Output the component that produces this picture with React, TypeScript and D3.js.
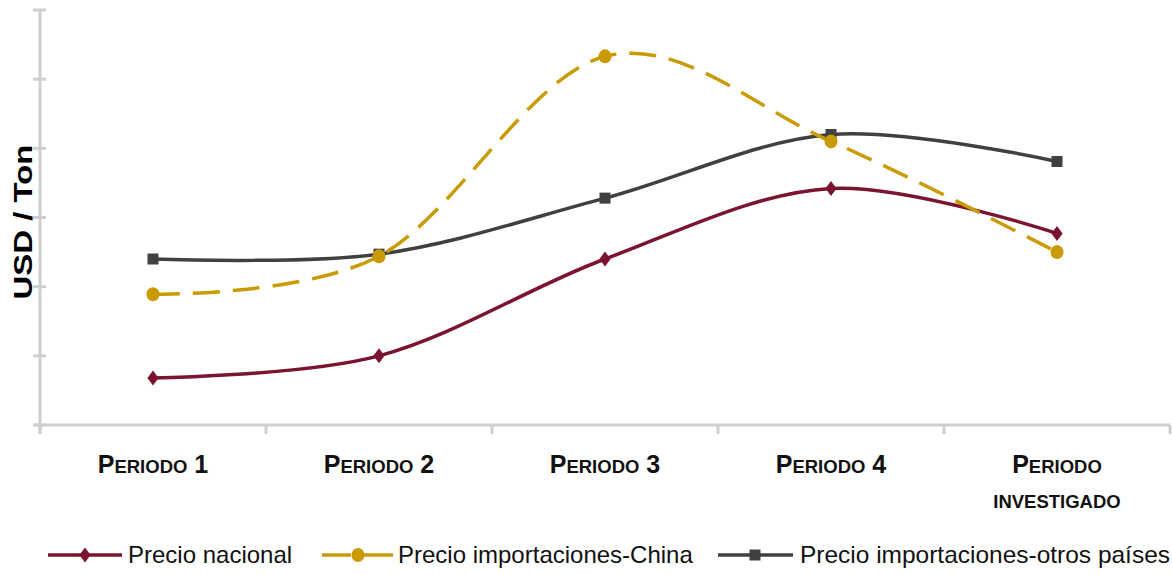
import React from "react";
import * as d3 from "d3";

const categories = ["Periodo 1", "Periodo 2", "Periodo 3", "Periodo 4", "Periodo investigado"];
const yTicks = [0, 1, 2, 3, 4, 5, 6];
const precioNacional = [0.68, 1.0, 2.4, 3.42, 2.77];
const precioChina = [1.89, 2.44, 5.33, 4.1, 2.5];
const precioOtros = [2.4, 2.47, 3.28, 4.2, 3.81];

const W = 1172;
const H = 575;
const left = 40;
const right = 1170;
const top = 10;
const bottom = 425;

const C_NAC = "#7a1430";
const C_CHN = "#c99b00";
const C_OTR = "#404040";
const AXIS = "#cfcfcf";

const FONT = "'Liberation Sans', Arial, sans-serif";

export default function App() {
  const x = d3.scaleBand<string>().domain(categories).range([left, right]);
  const y = d3.scaleLinear().domain([0, 6]).range([bottom, top]);
  const cx = (c: string) => (x(c) as number) + x.bandwidth() / 2;

  const line = d3
    .line<number>()
    .x((_, i) => cx(categories[i]))
    .y((v) => y(v))
    .curve(d3.curveCatmullRom.alpha(0));

  const boundaries = categories.map((c) => x(c) as number).concat([right]);

  const diamond = (px: number, py: number, s: number) =>
    `M${px},${py - s} L${px + s * 0.75},${py} L${px},${py + s} L${px - s * 0.75},${py} Z`;

  const smallCaps = (word: string, big: number, small: number) => (
    <>
      <tspan fontSize={big}>{word[0]}</tspan>
      <tspan fontSize={small}>{word.slice(1).toUpperCase()}</tspan>
    </>
  );

  return (
    <svg
      width={W}
      height={H}
      style={{ position: "absolute", left: 0, top: 0, background: "#fff" }}
      fontFamily={FONT}
    >
      {/* axes */}
      <line x1={left} x2={left} y1={top} y2={bottom + 8} stroke={AXIS} strokeWidth={3} />
      {yTicks.map((t) => (
        <line key={t} x1={left - 7} x2={left + 6} y1={y(t)} y2={y(t)} stroke={AXIS} strokeWidth={3} />
      ))}
      <line x1={left - 7} x2={right} y1={bottom} y2={bottom} stroke={AXIS} strokeWidth={3} />
      {boundaries.map((b, i) => (
        <line key={i} x1={b} x2={b} y1={bottom} y2={bottom + 9} stroke={AXIS} strokeWidth={3} />
      ))}

      {/* y label */}
      <text
        transform={`translate(32,222) rotate(-90)`}
        textAnchor="middle"
        fontWeight="bold"
        fontSize={25}
        textLength={155}
        lengthAdjust="spacingAndGlyphs"
        fill="#000"
      >
        USD / Ton
      </text>

      {/* category labels */}
      {categories.map((c, i) => {
        const words = c.split(" ");
        if (i < 4) {
          return (
            <text key={c} x={cx(c)} y={473} textAnchor="middle" fontWeight="bold" fill="#111">
              {smallCaps(words[0], 25, 18.5)}
              <tspan fontSize={25}>{" " + words[1]}</tspan>
            </text>
          );
        }
        return (
          <g key={c}>
            <text x={cx(c)} y={473} textAnchor="middle" fontWeight="bold" fill="#111">
              {smallCaps(words[0], 25, 18.5)}
            </text>
            <text x={cx(c)} y={508} textAnchor="middle" fontWeight="bold" fill="#111" fontSize={18.5}>
              {words[1].toUpperCase()}
            </text>
          </g>
        );
      })}

      {/* series */}
      <path d={line(precioOtros) || ""} fill="none" stroke={C_OTR} strokeWidth={3.5} />
      <path d={line(precioNacional) || ""} fill="none" stroke={C_NAC} strokeWidth={3.5} />
      <path
        d={line(precioChina) || ""}
        fill="none"
        stroke={C_CHN}
        strokeWidth={3.5}
        strokeDasharray="27 13"
      />

      {precioOtros.map((v, i) => (
        <rect key={"o" + i} x={cx(categories[i]) - 5.5} y={y(v) - 5.5} width={11} height={11} fill={C_OTR} />
      ))}
      {precioNacional.map((v, i) => (
        <path key={"n" + i} d={diamond(cx(categories[i]), y(v), 7.5)} fill={C_NAC} />
      ))}
      {precioChina.map((v, i) => (
        <ellipse key={"c" + i} cx={cx(categories[i])} cy={y(v)} rx={6.5} ry={7} fill={C_CHN} />
      ))}

      {/* legend */}
      <g>
        <line x1={48} x2={122} y1={555} y2={555} stroke={C_NAC} strokeWidth={3.5} />
        <path d={diamond(85, 555, 7.5)} fill={C_NAC} />
        <text x={128} y={563} fontSize={24} fill="#111">Precio nacional</text>

        <line x1={322} x2={351} y1={555} y2={555} stroke={C_CHN} strokeWidth={3.5} />
        <line x1={364} x2={393} y1={555} y2={555} stroke={C_CHN} strokeWidth={3.5} />
        <ellipse cx={358} cy={555} rx={6.5} ry={7} fill={C_CHN} />
        <text x={398} y={563} fontSize={24} fill="#111">Precio importaciones-China</text>

        <line x1={718} x2={793} y1={555} y2={555} stroke={C_OTR} strokeWidth={3.5} />
        <rect x={749.5} y={549.5} width={11} height={11} fill={C_OTR} />
        <text x={800} y={563} fontSize={24} fill="#111" textLength={370} lengthAdjust="spacingAndGlyphs">
          Precio importaciones-otros países
        </text>
      </g>
    </svg>
  );
}
